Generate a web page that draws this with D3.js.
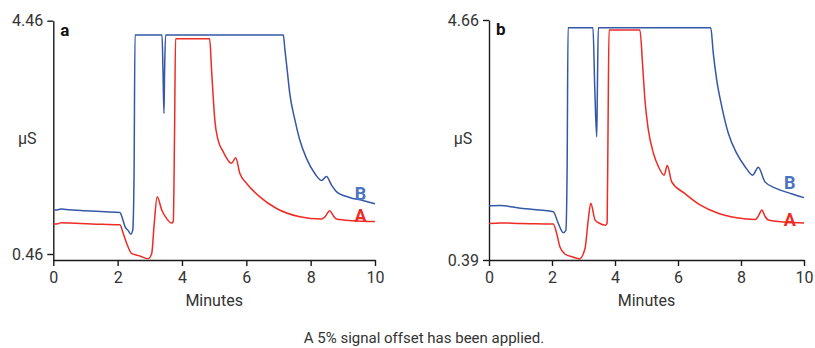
<!DOCTYPE html>
<html>
<head>
<meta charset="utf-8">
<script src="https://cdn.jsdelivr.net/npm/d3@7"></script>
<style>
  body { margin: 0; background: #fff; }
  svg { display: block; font-family: Roboto, "Liberation Sans", sans-serif; }
  .axis path, .axis line { stroke: #1a1a1a; stroke-width: 1.4; }
  .axis text { font-size: 16px; fill: #333; font-family: Roboto, "Liberation Sans", sans-serif; }
</style>
</head>
<body>
<figure id="chart" style="margin:0"></figure>
<script>
// x ticks (minutes), shared by both panels
const minuteTicks = [0, 2, 4, 6, 8, 10];

// panel a: y tick labels and traces [minutes, µS]
const ticksA = [0.46, 4.46];
const panelA_B = [[0,1.215],[0.15,1.22],[0.25,1.232],[0.4,1.222],[1.0,1.2],[1.6,1.185],[2.07,1.17],[2.15,1.07],[2.23,0.93],[2.33,0.86],[2.41,0.80],[2.47,0.87],[2.51,1.8],[2.54,4.215],
  [3.38,4.215],[3.41,3.6],[3.44,2.87],[3.46,3.6],[3.49,4.215],[7.15,4.215],[7.2,3.96],[7.27,3.615],[7.35,3.215],[7.51,2.76],[7.66,2.42],[7.87,2.1],[8.13,1.84],[8.34,1.72],[8.49,1.79],[8.65,1.64],[8.8,1.53],[9.21,1.43],[9.6,1.38],[10,1.32]];
const panelA_A = [[0,0.975],[0.15,0.98],[0.25,0.997],[0.5,0.99],[1.2,0.975],[2.07,0.96],[2.17,0.82],[2.28,0.644],[2.43,0.47],[2.69,0.426],[2.95,0.38],[3.06,0.47],[3.13,0.93],[3.23,1.44],[3.37,1.215],[3.52,1.07],[3.68,0.99],[3.73,1.02],[3.77,2.6],[3.8,4.15],
  [4.86,4.15],[4.92,3.615],[4.97,3.157],[5.02,2.76],[5.12,2.42],[5.28,2.215],[5.54,2.015],[5.67,2.11],[5.8,1.84],[6.01,1.67],[6.42,1.44],[6.94,1.24],[7.66,1.1],[8.34,1.06],[8.45,1.1],[8.59,1.2],[8.7,1.12],[8.8,1.06],[9.32,1.03],[10,1.015]];

// panel b
const ticksB = [0.39, 4.66];
const panelB_B = [[0,1.355],[0.35,1.36],[1.0,1.31],[2.04,1.25],[2.2,1.04],[2.36,0.875],[2.44,0.92],[2.48,2.0],[2.51,4.52],
  [3.3,4.52],[3.36,3.4],[3.42,2.58],[3.44,3.4],[3.47,4.52],[7.04,4.52],[7.12,4.07],[7.23,3.59],[7.39,3.12],[7.6,2.64],[7.86,2.29],[8.13,2.05],[8.37,1.9],[8.55,2.04],[8.76,1.78],[9.13,1.66],[9.6,1.57],[10,1.5]];
const panelB_A = [[0,1.04],[0.35,1.05],[1.0,1.04],[2.04,1.03],[2.15,0.86],[2.25,0.626],[2.41,0.497],[2.68,0.44],[2.87,0.41],[3.05,0.6],[3.15,1.1],[3.23,1.4],[3.37,1.1],[3.52,1.04],[3.7,1.01],[3.75,1.05],[3.78,2.8],[3.81,4.48],
  [4.79,4.48],[4.88,3.83],[4.95,3.24],[5.06,2.7],[5.22,2.29],[5.38,2.05],[5.56,1.9],[5.66,2.07],[5.8,1.78],[6.2,1.58],[6.7,1.37],[7.23,1.23],[7.86,1.14],[8.45,1.11],[8.55,1.17],[8.66,1.28],[8.76,1.17],[8.87,1.1],[9.45,1.06],[10,1.05]];

const blue = '#3557a7', red = '#ee2b24';

const svg = d3.select('#chart').append('svg')
  .attr('width', 815).attr('height', 348);

function drawPanel(opt) {
  const x = d3.scaleLinear().domain([0, 10]).range([opt.left, opt.right]);
  const y = d3.scaleLinear().domain(opt.yDomain).range([opt.bottom, opt.top]);

  svg.append('g').attr('class', 'axis')
    .attr('transform', `translate(0,${opt.bottom})`)
    .call(d3.axisBottom(x).tickValues(minuteTicks).tickSize(6).tickPadding(6).tickSizeOuter(0));

  svg.append('g').attr('class', 'axis')
    .attr('transform', `translate(${opt.left},0)`)
    .call(d3.axisLeft(y).tickValues(opt.ticks).tickFormat(d3.format('.2f')).tickSize(6).tickPadding(4).tickSizeOuter(0));

  const line = d3.line().x(d => x(d[0])).y(d => y(d[1])).curve(d3.curveMonotoneX);

  [[opt.seriesB, blue], [opt.seriesA, red]].forEach(([data, color]) => {
    svg.append('path').datum(data)
      .attr('fill', 'none').attr('stroke', color)
      .attr('stroke-width', 1.5).attr('stroke-linejoin', 'round')
      .attr('d', line);
  });

  // panel letter
  svg.append('text').attr('x', opt.left + 7).attr('y', opt.top + 15)
    .attr('font-size', 17).attr('font-weight', 'bold').attr('fill', '#111').text(opt.letter);

  svg.append('text').attr('x', opt.left - 26).attr('y', 144)
    .attr('text-anchor', 'middle').attr('font-size', 16).attr('fill', '#333').text('µS');

  svg.append('text').attr('x', (opt.left + opt.right) / 2).attr('y', 306)
    .attr('text-anchor', 'middle').attr('font-size', 16).attr('fill', '#333').text('Minutes');

  svg.append('text').attr('x', x(9.55)).attr('y', y(opt.labelB) + 7)
    .attr('text-anchor', 'middle').attr('font-size', 18).attr('font-weight', 'bold').attr('fill', '#4a74c0').text('B');
  svg.append('text').attr('x', x(9.55)).attr('y', y(opt.labelA) + 7)
    .attr('text-anchor', 'middle').attr('font-size', 18).attr('font-weight', 'bold').attr('fill', red).text('A');
}

drawPanel({ letter: 'a', left: 53.3, right: 375, top: 20.7, bottom: 260, yDomain: [0.357, 4.46],
  ticks: ticksA, seriesA: panelA_A, seriesB: panelA_B, labelB: 1.5, labelA: 1.13 });
drawPanel({ letter: 'b', left: 489, right: 804, top: 20, bottom: 260, yDomain: [0.39, 4.66],
  ticks: ticksB, seriesA: panelB_A, seriesB: panelB_B, labelB: 1.78, labelA: 1.12 });

svg.append('text').attr('x', 424).attr('y', 343)
  .attr('text-anchor', 'middle').attr('font-size', 15).attr('fill', '#333')
  .text('A 5% signal offset has been applied.');
</script>
</body>
</html>
